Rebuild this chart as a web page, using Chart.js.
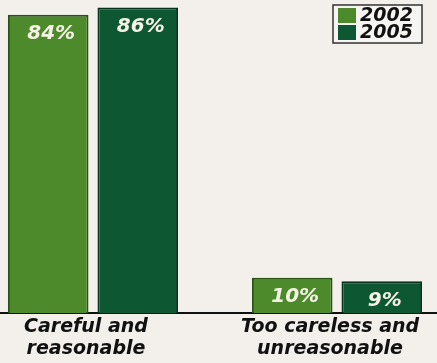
<!DOCTYPE html>
<html>
<head>
<meta charset="utf-8">
<script src="https://cdn.jsdelivr.net/npm/chart.js@4.4.1/dist/chart.umd.min.js"></script>
<style>
  html, body { margin: 0; padding: 0; background: #f3efeb; overflow: hidden; }
  #wrap { position: relative; width: 488px; height: 363px; margin-left: -29px; }
</style>
</head>
<body>
<div id="wrap"><canvas id="chart"></canvas></div>
<script>
const categories = [['Careful and', 'reasonable'], ['Too careless and', 'unreasonable']];
const years = ['2002', '2005'];
const values2002 = [84, 10];
const values2005 = [86, 9];

const fill = ['#4c8a2c', '#0e5733'];
const edge = ['#2a5416', '#06331c'];
const fontFamily = "'DejaVu Sans', sans-serif";

// value labels in white at the top of each bar
const valueLabels = {
  id: 'valueLabels',
  afterDatasetsDraw(chart) {
    const ctx = chart.ctx;
    ctx.save();
    ctx.font = `italic bold 20px ${fontFamily}`;
    ctx.fillStyle = '#f6f3e6';
    ctx.textAlign = 'center';
    ctx.textBaseline = 'middle';
    chart.data.datasets.forEach((ds, i) => {
      chart.getDatasetMeta(i).data.forEach((bar, j) => {
        ctx.fillText(`${ds.data[j]}%`, bar.x + 3, bar.y + 19);
      });
    });
    ctx.restore();
  }
};

// boxed legend in the top right corner
const boxLegend = {
  id: 'boxLegend',
  afterDraw(chart) {
    const ctx = chart.ctx;
    const x = 362, y = 5, w = 89, h = 38;
    ctx.save();
    ctx.fillStyle = '#f7f5f1';
    ctx.fillRect(x, y, w, h);
    ctx.strokeStyle = '#333';
    ctx.lineWidth = 1.5;
    ctx.strokeRect(x, y, w, h);
    ctx.font = `italic bold 19px ${fontFamily}`;
    ctx.textBaseline = 'middle';
    chart.data.datasets.forEach((ds, i) => {
      const rowY = y + 3 + i * 17;
      ctx.fillStyle = fill[i];
      ctx.fillRect(x + 5, rowY, 18, 15);
      ctx.fillStyle = '#111';
      ctx.fillText(ds.label, x + 27, rowY + 8);
    });
    ctx.restore();
  }
};

new Chart(document.getElementById('chart'), {
  type: 'bar',
  data: {
    labels: categories,
    datasets: [
      { label: years[0], data: values2002, backgroundColor: fill[0], borderColor: edge[0], borderWidth: 2 },
      { label: years[1], data: values2005, backgroundColor: fill[1], borderColor: edge[1], borderWidth: 2 }
    ]
  },
  options: {
    responsive: true,
    maintainAspectRatio: false,
    animation: false,
    categoryPercentage: 0.734,
    barPercentage: 0.9,
    layout: { padding: { top: 4, left: 0, right: 0, bottom: 0 } },
    plugins: { legend: { display: false }, tooltip: { enabled: false } },
    scales: {
      x: {
        grid: { display: false, drawTicks: false },
        border: { color: '#111', width: 2 },
        ticks: {
          color: '#111',
          padding: 3,
          labelOffset: -7,
          font: { family: fontFamily, size: 19, style: 'italic', weight: 'bold', lineHeight: 1.15 }
        }
      },
      y: { display: false, min: 0, max: 87 }
    }
  },
  plugins: [valueLabels, boxLegend]
});
</script>
</body>
</html>
